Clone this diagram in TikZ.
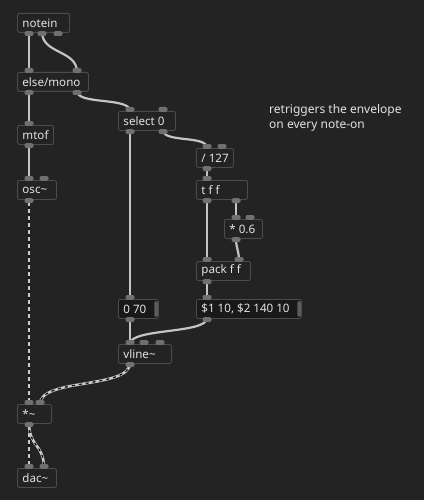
\documentclass[tikz,border=0pt]{standalone}
\usepackage{fontspec}
\setmainfont{Noto Sans}
\usetikzlibrary{calc}
\definecolor{bgc}{HTML}{232323}
\definecolor{boxc}{HTML}{4C4C4C}
\definecolor{msgc}{HTML}{191919}
\definecolor{txtc}{HTML}{E2E2E2}
\definecolor{iolc}{HTML}{707070}
\definecolor{cabc}{HTML}{C4C4C4}
\definecolor{flagc}{HTML}{5C5C5C}
\tikzset{
  pdbox/.style={draw=boxc, fill=bgc, line width=0.9pt, rounded corners=2pt,
    anchor=north west, minimum height=19pt, inner xsep=5pt, inner ysep=0pt,
    text=txtc, font=\fontsize{11.6}{14}\selectfont},
  pdmsg/.style={pdbox, fill=msgc},
  cable/.style={draw=cabc, line width=2.2pt},
  sigbase/.style={draw=cabc!90!white, line width=2.6pt},
  sigdash/.style={draw=bgc!60!black, line width=1.3pt, dash pattern=on 3pt off 4pt},
  iol/.style={fill=iolc, rounded corners=2pt},
  note/.style={anchor=north west, text=txtc, align=left, inner sep=0pt,
    font=\fontsize{12}{15}\selectfont}
}
\newcommand\pdb[6][pdbox]{\node[#1] (#2) at (#3,#4) {\makebox[#5pt][l]{#6}};}
\newcommand\outl[2]{\fill[iol] ($(#1)+(-4.5pt,-4pt)$) rectangle ($(#1)+(4.5pt,0.8pt)$);}
\newcommand\inl[2]{\fill[iol] ($(#1)+(-4.5pt,-0.8pt)$) rectangle ($(#1)+(4.5pt,4pt)$);}
\newcommand\sig[1]{\draw[sigbase] #1; \draw[sigdash] #1;}
\begin{document}
\begin{tikzpicture}[x=1pt,y=-1pt]
\fill[bgc] (0,0) rectangle (424,500);
\useasboundingbox (0,0) rectangle (424,500);
% iolet coordinates
\coordinate (notein-o0) at (29,32);
\coordinate (notein-o1) at (42,32);
\coordinate (notein-o2) at (58,32);
\coordinate (mono-i0) at (29,72);
\coordinate (mono-i1) at (77,72);
\coordinate (mono-o0) at (29,91);
\coordinate (mono-o1) at (77,91);
\coordinate (mtof-i0) at (29,125);
\coordinate (mtof-o0) at (29,144);
\coordinate (osc-i0) at (29,180);
\coordinate (osc-i1) at (44,180);
\coordinate (osc-o0) at (29,199);
\coordinate (sel-i0) at (130,111);
\coordinate (sel-i1) at (163,111);
\coordinate (sel-o0) at (130,130);
\coordinate (sel-o1) at (163,130);
\coordinate (div-i0) at (207,148);
\coordinate (div-i1) at (222,148);
\coordinate (div-o0) at (207,167);
\coordinate (tff-i0) at (207,180);
\coordinate (tff-o0) at (207,199);
\coordinate (tff-o1) at (236,199);
\coordinate (mul-i0) at (236,219);
\coordinate (mul-i1) at (250,219);
\coordinate (mul-o0) at (236,238);
\coordinate (pack-i0) at (207,261);
\coordinate (pack-i1) at (239,261);
\coordinate (pack-o0) at (207,280);
\coordinate (m70-i0) at (130,299);
\coordinate (m70-o0) at (130,318);
\coordinate (msg-i0) at (207,299);
\coordinate (msg-o0) at (207,318);
\coordinate (vline-i0) at (130,344);
\coordinate (vline-i1) at (144,344);
\coordinate (vline-i2) at (160,344);
\coordinate (vline-o0) at (130,363);
\coordinate (mulsig-i0) at (29,404);
\coordinate (mulsig-i1) at (40,404);
\coordinate (mulsig-o0) at (29,423);
\coordinate (dac-i0) at (29,468);
\coordinate (dac-i1) at (44,468);
% cables
\draw[cable] (notein-o0) -- (mono-i0);
\draw[cable] (notein-o1) .. controls +(0,22) and +(0,-22) .. (mono-i1);
\draw[cable] (mono-o0) -- (mtof-i0);
\draw[cable] (mono-o1) .. controls +(0,14) and +(0,-14) .. (sel-i0);
\draw[cable] (mtof-o0) -- (osc-i0);
\draw[cable] (sel-o0) -- (m70-i0);
\draw[cable] (sel-o1) .. controls +(0,13) and +(0,-13) .. (div-i0);
\draw[cable] (div-o0) -- (tff-i0);
\draw[cable] (tff-o0) -- (pack-i0);
\draw[cable] (tff-o1) -- (mul-i0);
\draw[cable] (mul-o0) .. controls +(0,11) and +(0,-11) .. (pack-i1);
\draw[cable] (pack-o0) -- (msg-i0);
\draw[cable] (m70-o0) -- (vline-i0);
\draw[cable] (msg-o0) .. controls +(0,16) and +(0,-16) .. (vline-i0);
\sig{(osc-o0) -- (mulsig-i0)}
\sig{(vline-o0) .. controls +(0,26) and +(0,-26) .. (mulsig-i1)}
\sig{(mulsig-o0) -- (dac-i0)}
\sig{(mulsig-o0) .. controls +(0,24) and +(0,-24) .. (dac-i1)}
% boxes
\pdb{notein}{17}{13}{42}{notein}
\pdb{mono}{17}{72}{61}{else/mono}
\pdb{mtof}{17}{125}{26}{mtof}
\pdb{osc}{17}{180}{29}{osc\char`\~}
\pdb{sel}{118}{111}{47}{select 0}
\pdb{div}{196}{148}{27}{/ 127}
\pdb{tff}{196}{180}{41}{t f f}
\pdb{mul}{224}{219}{28}{* 0.6}
\pdb{pack}{196}{261}{44}{pack f f}
\pdb[pdmsg]{m70}{118}{299}{30}{0 70}
\pdb[pdmsg]{msg}{196}{299}{95}{\$1 10, \$2 140 10}
\pdb{vline}{118}{344}{43}{vline\char`\~}
\pdb{mulsig}{17}{404}{24}{*\char`\~}
\pdb{dac}{17}{468}{29}{dac\char`\~}
% message flags
\fill[flagc, rounded corners=1.5pt] ($(m70.north east)+(-4.5pt,-2pt)$) rectangle ($(m70.south east)+(-1pt,2pt)$);
\fill[flagc, rounded corners=1.5pt] ($(msg.north east)+(-4.5pt,-2pt)$) rectangle ($(msg.south east)+(-1pt,2pt)$);
% iolets
\foreach \c in {notein-o0,notein-o1,notein-o2,mono-o0,mono-o1,mtof-o0,osc-o0,sel-o0,sel-o1,div-o0,tff-o0,tff-o1,mul-o0,pack-o0,m70-o0,msg-o0,vline-o0,mulsig-o0}{\outl{\c}{}}
\foreach \c in {mono-i0,mono-i1,mtof-i0,osc-i0,osc-i1,sel-i0,sel-i1,div-i0,div-i1,tff-i0,mul-i0,mul-i1,pack-i0,pack-i1,m70-i0,msg-i0,vline-i0,vline-i1,vline-i2,mulsig-i0,mulsig-i1,dac-i0,dac-i1}{\inl{\c}{}}
% comment
\node[note] (comment) at (269,104) {retriggers the envelope\\on every note-on};
\end{tikzpicture}
\end{document}
